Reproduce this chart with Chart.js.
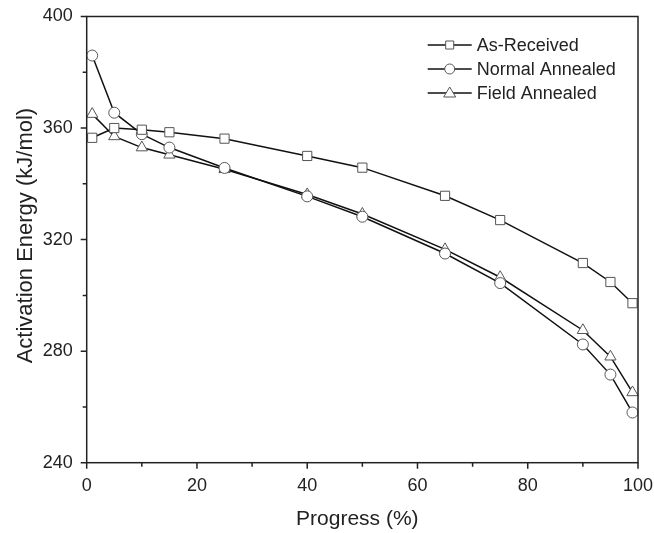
<!DOCTYPE html>
<html>
<head>
<meta charset="utf-8">
<script src="https://cdn.jsdelivr.net/npm/chart.js@4"></script>
<style>
  html, body { margin: 0; padding: 0; background: #fff; }
  #wrap { width: 654px; height: 533px; }
</style>
</head>
<body>
<div id="wrap"><canvas id="chart" width="654" height="533"></canvas></div>
<script>
// progress points (%)
const progress = [1, 5, 10, 15, 25, 40, 50, 65, 75, 90, 95, 99];
const asReceived = [356.5, 360, 359.4, 358.5, 356.2, 350, 345.8, 335.7, 327, 311.6, 304.8, 297.2];
const normalAnnealed = [386, 365.5, 357.8, 353, 345.7, 335.5, 328.2, 315, 304.4, 282.4, 271.6, 258];
const fieldAnnealed = [365, 357, 353, 350.4, 345.2, 336.2, 329.2, 316.5, 306.5, 287.5, 278, 265.2];
const xTicks = [0, 20, 40, 60, 80, 100];
const yTicks = [240, 280, 320, 360, 400];
const xTitle = "Progress (%)";
const yTitle = "Activation Energy (kJ/mol)";

const font = "Liberation Sans, Arial, sans-serif";

function pts(vals) {
  return progress.map((p, i) => ({ x: p, y: vals[i] }));
}

// frame, outward ticks, tick labels, axis titles and legend
const framePlugin = {
  id: "frame",
  afterDraw(chart) {
    const ctx = chart.ctx;
    const a = chart.chartArea;
    const xs = chart.scales.x;
    const ys = chart.scales.y;
    ctx.save();
    ctx.strokeStyle = "#222";
    ctx.lineWidth = 1.5;
    ctx.strokeRect(a.left, a.top, a.right - a.left, a.bottom - a.top);
    ctx.beginPath();
    for (let v = 0; v <= 100; v += 10) {
      const px = xs.getPixelForValue(v);
      const len = v % 20 === 0 ? 6 : 4;
      ctx.moveTo(px, a.bottom);
      ctx.lineTo(px, a.bottom + len);
    }
    for (let v = 240; v <= 400; v += 20) {
      const py = ys.getPixelForValue(v);
      const len = v % 40 === 0 ? 6 : 4;
      ctx.moveTo(a.left, py);
      ctx.lineTo(a.left - len, py);
    }
    ctx.stroke();

    // tick labels
    ctx.fillStyle = "#222";
    ctx.font = "18px " + font;
    ctx.textBaseline = "middle";
    ctx.textAlign = "center";
    xTicks.forEach((v) => ctx.fillText(String(v), xs.getPixelForValue(v), a.bottom + 23));
    ctx.textAlign = "right";
    yTicks.forEach((v) => ctx.fillText(String(v), a.left - 14, ys.getPixelForValue(v)));

    // axis titles
    ctx.textAlign = "center";
    ctx.textBaseline = "alphabetic";
    ctx.font = "21px " + font;
    ctx.fillText(xTitle, (a.left + a.right) / 2 - 5, a.bottom + 62);
    ctx.save();
    ctx.translate(32, (a.top + a.bottom) / 2 - 4);
    ctx.rotate(-Math.PI / 2);
    ctx.font = "22px " + font;
    ctx.fillText(yTitle, 0, 0);
    ctx.restore();

    // legend
    const lx = a.left + 341;
    let ly = a.top + 28.5;
    ctx.textAlign = "left";
    chart.data.datasets.forEach((ds) => {
      ctx.strokeStyle = "#111";
      ctx.lineWidth = 1.5;
      ctx.beginPath();
      ctx.moveTo(lx, ly);
      ctx.lineTo(lx + 44, ly);
      ctx.stroke();
      ctx.fillStyle = "#fff";
      ctx.strokeStyle = "#555";
      ctx.lineWidth = 1;
      const cx = lx + 22;
      ctx.beginPath();
      if (ds.pointStyle === "rect") {
        ctx.rect(cx - 4, ly - 4, 8, 8);
      } else if (ds.pointStyle === "circle") {
        ctx.arc(cx, ly, 5, 0, Math.PI * 2);
      } else {
        ctx.moveTo(cx, ly - 6);
        ctx.lineTo(cx + 6, ly + 4);
        ctx.lineTo(cx - 6, ly + 4);
        ctx.closePath();
      }
      ctx.fill();
      ctx.stroke();
      ctx.fillStyle = "#222";
      ctx.font = "18px " + font;
      ctx.textBaseline = "middle";
      ctx.fillText(ds.label, lx + 49, ly + 1);
      ly += 24;
    });
    ctx.restore();
  }
};

function series(label, vals, style, radius) {
  return {
    label: label,
    data: pts(vals),
    borderColor: "#111",
    borderWidth: 1.5,
    pointStyle: style,
    pointRadius: radius,
    pointBackgroundColor: "#fff",
    pointBorderColor: "#555",
    pointBorderWidth: 1,
    tension: 0
  };
}

new Chart(document.getElementById("chart").getContext("2d"), {
  type: "line",
  data: {
    datasets: [
      series("As-Received", asReceived, "rect", 6.5),
      series("Normal Annealed", normalAnnealed, "circle", 5.5),
      series("Field Annealed", fieldAnnealed, "triangle", 6.5)
    ]
  },
  options: {
    responsive: false,
    animation: false,
    clip: false,
    layout: { padding: { top: 16.5, right: 16, left: 86.7, bottom: 70.3 } },
    plugins: { legend: { display: false }, tooltip: { enabled: false } },
    scales: {
      x: {
        type: "linear",
        min: 0,
        max: 100,
        grid: { display: false, drawTicks: false },
        border: { display: false },
        ticks: { display: false }
      },
      y: {
        min: 240,
        max: 400,
        grid: { display: false, drawTicks: false },
        border: { display: false },
        ticks: { display: false }
      }
    }
  },
  plugins: [framePlugin]
});
</script>
</body>
</html>
